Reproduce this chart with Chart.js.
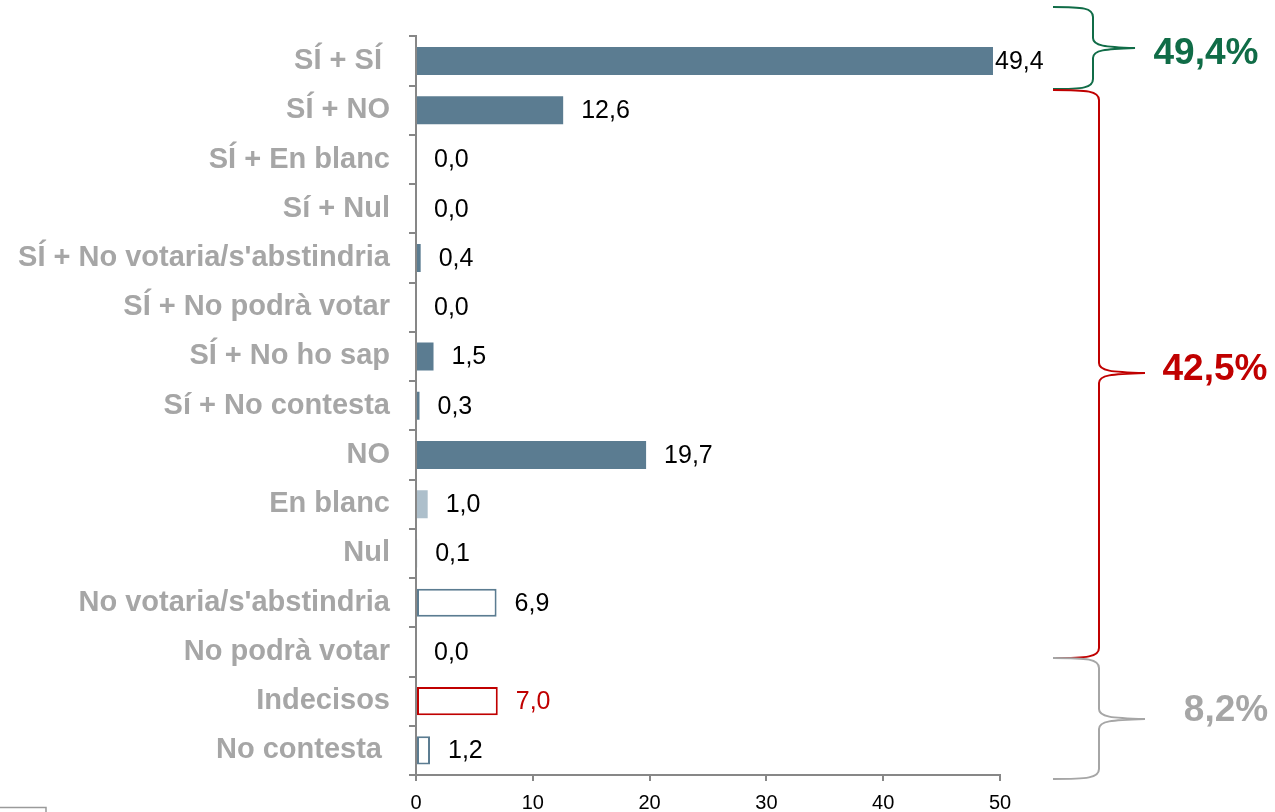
<!DOCTYPE html>
<html>
<head>
<meta charset="utf-8">
<title>Intenció de vot</title>
<script src="https://cdn.jsdelivr.net/npm/chart.js@4.4.1/dist/chart.umd.min.js"></script>
<style>
  html, body { margin: 0; padding: 0; background: #ffffff; }
  #wrap { width: 1275px; height: 812px; position: relative; }
</style>
</head>
<body>
<div id="wrap"><canvas id="myChart" width="1275" height="812"></canvas></div>
<script>
const categories = [
  "SÍ + SÍ ", "SÍ + NO", "SÍ + En blanc", "Sí + Nul", "SÍ + No votaria/s'abstindria",
  "SÍ + No podrà votar", "SÍ + No ho sap", "Sí + No contesta", "NO", "En blanc",
  "Nul", "No votaria/s'abstindria", "No podrà votar", "Indecisos", "No contesta "
];
const values = [49.4, 12.6, 0.0, 0.0, 0.4, 0.0, 1.5, 0.3, 19.7, 1.0, 0.1, 6.9, 0.0, 7.0, 1.2];
const xTicks = [0, 10, 20, 30, 40, 50];

// grouped totals shown next to the braces
const groupLabels = ["49,4%", "42,5%", "8,2%"];
const groupColors = ["#106c47", "#c00000", "#a6a6a6"];

const slate = "#5b7c91";
const slateLight = "#adbfcb";
const red = "#c00000";
const axisGrey = "#878787";
const fontFamily = "'Liberation Sans', Arial, Helvetica, sans-serif";

const fills = values.map((v, i) => {
  if (i <= 8) return slate;
  if (i === 9 || i === 10) return slateLight;
  return "#ffffff";
});
const borders = values.map((v, i) => (i === 13 ? red : slate));
const borderWidths = values.map((v, i) => {
  if (i === 11 || i === 13 || i === 14) return 2;
  return 0;
});

const fmt = v => v.toFixed(1).replace(".", ",");

function drawBrace(ctx, x0, xv, xt, yTop, yMid, yBot, color) {
  const r = 10;
  ctx.beginPath();
  ctx.moveTo(x0, yTop);
  ctx.bezierCurveTo(x0 + (xv - x0) * 0.75, yTop, xv, yTop + 1, xv, yTop + r);
  ctx.lineTo(xv, yMid - r);
  ctx.bezierCurveTo(xv, yMid - 2, xv + 12, yMid - 1, xt, yMid);
  ctx.bezierCurveTo(xv + 12, yMid + 1, xv, yMid + 2, xv, yMid + r);
  ctx.lineTo(xv, yBot - r);
  ctx.bezierCurveTo(xv, yBot - 1, x0 + (xv - x0) * 0.75, yBot, x0, yBot);
  ctx.strokeStyle = color;
  ctx.lineWidth = 2;
  ctx.stroke();
}

const labelsPlugin = {
  id: "valueLabels",
  afterDatasetsDraw(chart) {
    const ctx = chart.ctx;
    const meta = chart.getDatasetMeta(0);
    ctx.save();
    ctx.font = "25px " + fontFamily;
    ctx.textBaseline = "middle";
    ctx.textAlign = "left";
    meta.data.forEach((bar, i) => {
      const gap = i === 0 ? 2 : 18;
      ctx.fillStyle = i === 13 ? red : "#000000";
      ctx.fillText(fmt(values[i]), bar.x + gap, bar.y + 1);
    });

    // braces grouping the answers
    drawBrace(ctx, 1053, 1093, 1135, 7, 48, 89, groupColors[0]);
    drawBrace(ctx, 1053, 1099, 1145, 90, 373, 658, groupColors[1]);
    drawBrace(ctx, 1053, 1099, 1145, 658, 719, 779, groupColors[2]);

    ctx.font = "bold 37px " + fontFamily;
    ctx.textAlign = "center";
    ctx.fillStyle = groupColors[0];
    ctx.fillText(groupLabels[0], 1206, 54);
    ctx.fillStyle = groupColors[1];
    ctx.fillText(groupLabels[1], 1215, 370);
    ctx.fillStyle = groupColors[2];
    ctx.fillText(groupLabels[2], 1226, 711);

    // leftover edge of a frame in the lower corner
    ctx.beginPath();
    ctx.moveTo(0, 807.5);
    ctx.lineTo(46, 807.5);
    ctx.lineTo(46, 812);
    ctx.strokeStyle = "#9a9a9a";
    ctx.lineWidth = 1.5;
    ctx.stroke();
    ctx.restore();
  }
};

const ctx = document.getElementById("myChart").getContext("2d");

const myChart = new Chart(ctx, {
  type: "bar",
  data: {
    labels: categories,
    datasets: [{
      data: values,
      backgroundColor: fills,
      borderColor: borders,
      borderWidth: borderWidths,
      borderSkipped: false,
      categoryPercentage: 0.57,
      barPercentage: 1
    }]
  },
  options: {
    indexAxis: "y",
    responsive: false,
    devicePixelRatio: 1,
    animation: false,
    layout: { padding: { left: 0, top: 35, right: 275, bottom: 0 } },
    plugins: {
      legend: { display: false },
      tooltip: { enabled: false }
    },
    scales: {
      x: {
        min: 0,
        max: 50,
        afterBuildTicks: scale => { scale.ticks = xTicks.map(v => ({ value: v })); },
        afterFit: scale => { scale.height = 37; },
        ticks: {
          color: "#000000",
          font: { family: fontFamily, size: 20 },
          padding: 10
        },
        grid: {
          drawOnChartArea: false,
          drawTicks: true,
          tickLength: 6,
          color: axisGrey,
          lineWidth: 2
        },
        border: { display: true, color: axisGrey, width: 2 }
      },
      y: {
        afterFit: scale => { scale.width = 416; },
        ticks: {
          color: "#a6a6a6",
          font: { family: fontFamily, size: 29, weight: "bold" },
          padding: 19
        },
        grid: {
          offset: true,
          drawOnChartArea: false,
          drawTicks: true,
          tickLength: 7,
          color: axisGrey,
          lineWidth: 2
        },
        border: { display: true, color: axisGrey, width: 2 }
      }
    }
  },
  plugins: [labelsPlugin]
});
</script>
</body>
</html>
